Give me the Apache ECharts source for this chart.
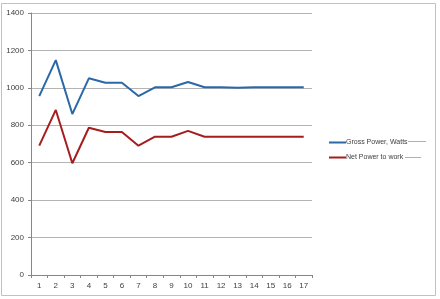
<!DOCTYPE html>
<html><head><meta charset="utf-8">
<script src="https://cdn.jsdelivr.net/npm/echarts@6/dist/echarts.min.js"></script>
<style>html,body{margin:0;padding:0;background:#fff}#c{width:440px;height:299px}</style>
</head><body><div id="c"></div>
<script>
var categories = ['1','2','3','4','5','6','7','8','9','10','11','12','13','14','15','16','17'];
var grossPower = [956,1148,860,1051,1027,1027,956,1003,1003,1031,1003,1003,1000,1003,1003,1003,1003];
var netPower = [691,882,597,787,764,764,691,739,739,770,739,739,739,739,739,739,739];
var seriesNames = ['Gross Power, Watts','Net Power to work'];

var chart = echarts.init(document.getElementById('c'));
chart.setOption({
  animation:false,
  backgroundColor:'#fff',
  grid:{left:31,top:13,width:281,height:262,containLabel:false},
  legend:{
    orient:'vertical', left:324, top:134, itemGap:8,
    itemWidth:17, itemHeight:2, icon:'rect',
    textStyle:{fontSize:7, color:'#404040', fontFamily:'Liberation Sans, Arial', padding:[0,0,0,-5]},
    data:seriesNames
  },
  xAxis:{
    type:'category', data:categories, boundaryGap:true,
    axisLine:{lineStyle:{color:'#868686'}},
    axisTick:{show:true, length:3, lineStyle:{color:'#868686'}},
    axisLabel:{fontSize:8, color:'#404040', fontFamily:'Liberation Sans, Arial', margin:7}
  },
  yAxis:{
    type:'value', min:0, max:1400, interval:200,
    axisLine:{show:true, lineStyle:{color:'#868686'}},
    axisTick:{show:true, length:3, lineStyle:{color:'#868686'}},
    splitLine:{lineStyle:{color:'#b4b4b4'}},
    axisLabel:{fontSize:8, color:'#404040', fontFamily:'Liberation Sans, Arial', margin:7, formatter:function(v){return String(v);}}
  },
  series:[
    {name:seriesNames[0], type:'line', data:grossPower, symbol:'none', lineStyle:{width:2, color:'#2b68a8'}, itemStyle:{color:'#2b68a8'}},
    {name:seriesNames[1], type:'line', data:netPower, symbol:'none', lineStyle:{width:2, color:'#a51d1f'}, itemStyle:{color:'#a51d1f'}}
  ],
  graphic:[
    {type:'rect', shape:{x:1.5,y:3.5,width:434,height:292}, style:{fill:'none', stroke:'#a9c6e4', lineWidth:1}},
    {type:'line', shape:{x1:408,y1:141.5,x2:426,y2:141.5}, style:{stroke:'#b0b0b0', lineWidth:1}},
    {type:'line', shape:{x1:405,y1:157.5,x2:421,y2:157.5}, style:{stroke:'#b0b0b0', lineWidth:1}}
  ]
});
</script></body></html>
